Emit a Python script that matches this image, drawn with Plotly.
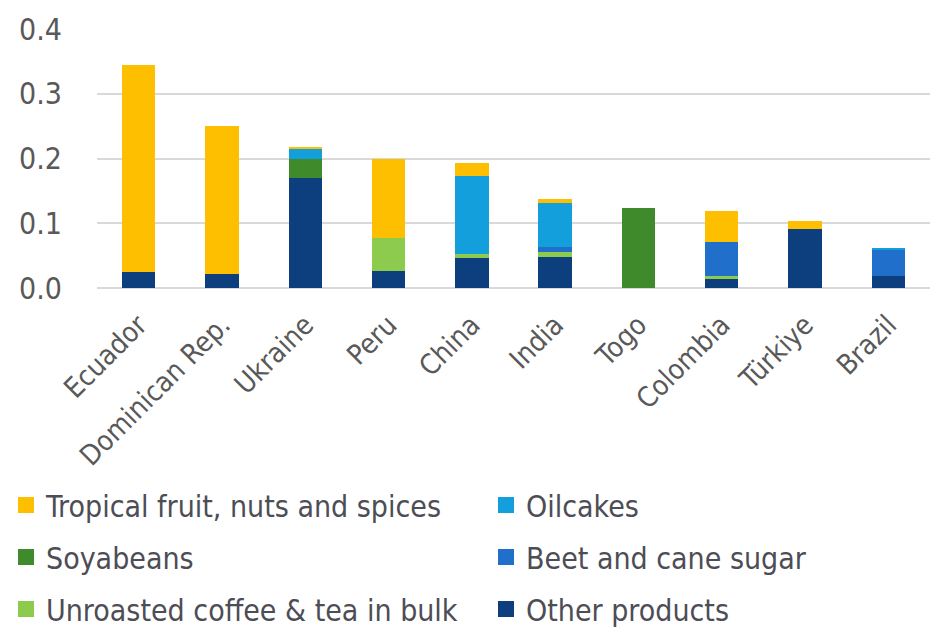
import plotly.graph_objects as go

countries = ["Ecuador", "Dominican Rep.", "Ukraine", "Peru", "China", "India", "Togo", "Colombia", "Türkiye", "Brazil"]

other = [0.025, 0.021, 0.170, 0.026, 0.047, 0.048, 0.0, 0.014, 0.091, 0.019]
coffee = [0.0, 0.0, 0.0, 0.051, 0.006, 0.007, 0.0, 0.005, 0.0, 0.0]
soy = [0.0, 0.0, 0.029, 0.0, 0.0, 0.0, 0.124, 0.0, 0.0, 0.0]
sugar = [0.0, 0.0, 0.0, 0.0, 0.0, 0.008, 0.0, 0.052, 0.0, 0.040]
oilcakes = [0.0, 0.0, 0.016, 0.0, 0.120, 0.068, 0.0, 0.0, 0.0, 0.003]
tropical = [0.319, 0.229, 0.002, 0.122, 0.020, 0.006, 0.0, 0.048, 0.013, 0.0]

y_ticks = [0.0, 0.1, 0.2, 0.3, 0.4]

# (name, values, colour, legend id, column, row)
series = [
    ("Other products", other, "#0d3f7f", "legend6", 1, 2),
    ("Unroasted coffee & tea in bulk", coffee, "#8dcb4f", "legend5", 0, 2),
    ("Soyabeans", soy, "#3f8a2b", "legend3", 0, 1),
    ("Beet and cane sugar", sugar, "#1f6fcb", "legend4", 1, 1),
    ("Oilcakes", oilcakes, "#139fdb", "legend2", 1, 0),
    ("Tropical fruit, nuts and spices", tropical, "#fdbf00", "legend", 0, 0),
]

font_family = "DejaVu Sans Condensed, Roboto, Noto Sans, sans-serif"
text_color = "#4d4d55"

fig = go.Figure()
for name, vals, color, lg, col, row in series:
    fig.add_trace(go.Bar(x=countries, y=vals, name=name, marker_color=color,
                         marker_line_width=0, showlegend=False))
    fig.add_trace(go.Scatter(x=[None], y=[None], mode="markers", name=name,
                             marker=dict(symbol="square", size=21, color=color),
                             legend=lg, showlegend=True))

col_x = [6 / 932, 486 / 932]
row_y = [505, 557, 609]
legends = {}
for name, vals, color, lg, col, row in series:
    legends[lg] = dict(orientation="h", xref="container", yref="container",
                       x=col_x[col], xanchor="left",
                       y=1 - row_y[row] / 628, yanchor="middle",
                       font=dict(size=30, color=text_color, family=font_family),
                       bgcolor="rgba(0,0,0,0)", itemwidth=30)

fig.update_layout(
    width=932, height=628,
    barmode="stack", bargap=0.6,
    plot_bgcolor="white", paper_bgcolor="white",
    margin=dict(l=97, r=2, t=29, b=340),
    font=dict(family=font_family, color="#595959"),
    xaxis=dict(tickangle=-45, tickfont=dict(size=28, color="#595959"),
               showgrid=False, showline=False, ticks="", ticklabelstandoff=14),
    yaxis=dict(range=[0, 0.4], tickvals=y_ticks, tickformat=".1f",
               tickfont=dict(size=30, color="#595959"),
               showgrid=True, gridcolor="#d9d9d9", gridwidth=1.5,
               zeroline=True, zerolinecolor="#d9d9d9", zerolinewidth=1.5,
               ticks="", ticklabelstandoff=34),
    **legends,
)

fig.write_html("out.html", config={"displayModeBar": False},
               post_script="document.body.style.margin='0';")
